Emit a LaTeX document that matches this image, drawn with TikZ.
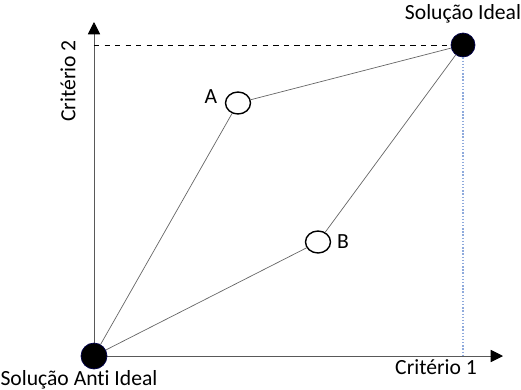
\documentclass[tikz,border=0pt]{standalone}
\usepackage{fontspec}
\setmainfont[Ligatures=NoCommon]{Carlito}
\usepackage{tikz}
\usetikzlibrary{arrows.meta, positioning, shapes.geometric}
\definecolor{guideblue}{RGB}{143,170,220}

\begin{document}
\begin{tikzpicture}[
  lbl/.style={font=\fontsize{12.3}{14}\selectfont, inner sep=1pt},
  sol/.style={circle, fill=black, draw=black!70!blue, minimum size=0.48cm, inner sep=0pt},
  alt/.style={ellipse, draw, thick, minimum width=0.5cm, minimum height=0.44cm, inner sep=0pt},
  axis/.style={-{Triangle[length=7pt, width=7pt, color=black]}, thin, black!65},
  link/.style={thin, black!60}
]
\useasboundingbox (-1.88,-0.66) rectangle (8.54,7.12);
\coordinate (o)    at (0,0);
\coordinate (ytop) at (0,6.68);
\coordinate (xend) at (8.18,0);
\coordinate (y2)   at (0,6.22);
\coordinate (x1)   at (7.38,0);
% axes
\draw[axis] (o) -- (ytop);
\draw[axis] (o) -- (xend);
% solutions and alternatives
\node[sol, minimum size=0.52cm] (anti)  at (o) {};
\node[sol] (ideal) at (7.38,6.22) {};
\node[alt] (A) at (2.88,5.06) {};
\node[alt] (B) at (4.48,2.28) {};
% guides
\draw[dashed, thin] (y2) -- (ideal);
\draw[guideblue, densely dotted, thick] (ideal) -- (x1);
% links
\draw[link] (anti) -- (A);
\draw[link] (A) -- (ideal);
\draw[link] (anti) -- (B);
\draw[link] (B) -- (ideal);
% labels
\node[lbl] (lideal) at (7.38,6.84) {Solução Ideal};
\node[lbl] (lanti)  at (-0.3,-0.48) {Solução Anti Ideal};
\node[lbl] (lc1)    at (6.84,-0.22) {Critério 1};
\node[lbl, rotate=90] (lc2) at (-0.52,5.5) {Critério 2};
\node[lbl] (lA) at (2.34,5.18) {A};
\node[lbl] (lB) at (4.98,2.28) {B};
\end{tikzpicture}
\end{document}
